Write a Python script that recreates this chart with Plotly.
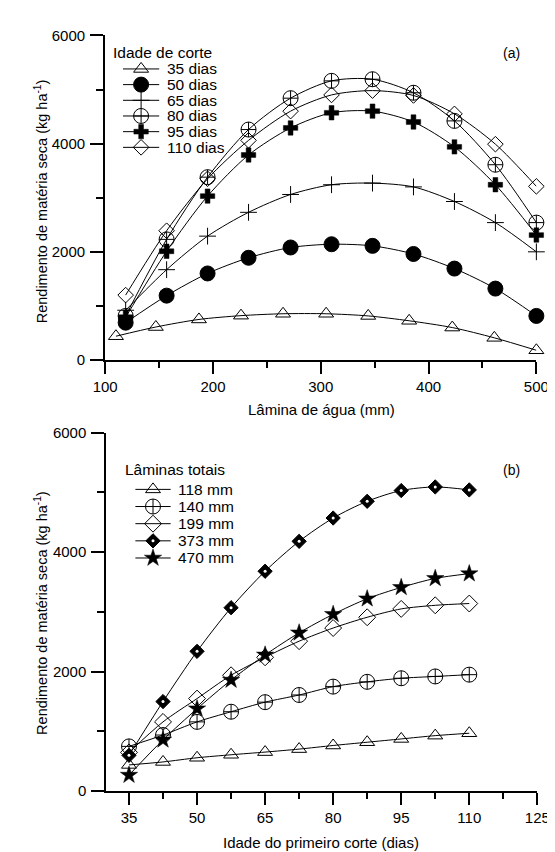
import plotly.graph_objects as go

# ---------------- data ----------------
lamina_35 = [110, 147, 187, 226, 265, 305, 344, 382, 422, 461, 500]
lamina = [119, 157, 195, 233, 272, 310, 348, 386, 424, 462, 500]
a_35 = [440, 610, 750, 820, 855, 855, 815, 725, 600, 410, 180]
a_50 = [690, 1190, 1600, 1890, 2080, 2140, 2110, 1960, 1690, 1320, 815]
a_65 = [920, 1670, 2290, 2730, 3060, 3240, 3270, 3200, 2930, 2540, 2000]
a_80 = [815, 2230, 3380, 4260, 4840, 5160, 5190, 4940, 4420, 3610, 2540]
a_95 = [790, 2010, 3030, 3790, 4290, 4570, 4600, 4400, 3940, 3240, 2310]
a_110 = [1200, 2390, 3350, 4060, 4600, 4900, 4980, 4890, 4550, 3990, 3210]
names_a = ["35 dias", "50 dias", "65 dias", "80 dias", "95 dias", "110 dias"]

idade = [35, 42.5, 50, 57.5, 65, 72.5, 80, 87.5, 95, 102.5, 110]
b_118 = [440, 490, 560, 610, 655, 705, 765, 820, 875, 930, 970]
b_140 = [750, 940, 1160, 1330, 1490, 1610, 1750, 1830, 1890, 1920, 1950]
b_199 = [650, 1160, 1550, 1940, 2240, 2510, 2730, 2910, 3050, 3110, 3140]
b_373 = [600, 1500, 2340, 3070, 3680, 4180, 4570, 4850, 5030, 5090, 5040]
b_470 = [270, 860, 1380, 1860, 2280, 2650, 2960, 3220, 3410, 3560, 3640]
names_b = ["118 mm", "140 mm", "199 mm", "373 mm", "470 mm"]

xticks_a = [100, 200, 300, 400, 500]
xminor_a = [150, 250, 350, 450]
xticks_b = [35, 50, 65, 80, 95, 110, 125]
xminor_b = [42.5, 57.5, 72.5, 87.5, 102.5, 117.5]
yticks = [0, 2000, 4000, 6000]
yminor = [1000, 3000, 5000]

# ---------------- styles ----------------
W, H = 555, 852
FONT = "Liberation Sans, Arial, sans-serif"
BLACK = "black"

sty_a = [
    dict(symbol="triangle-up-open", size=13, color=BLACK, line=dict(width=1, color=BLACK)),
    dict(symbol="circle", size=15, color=BLACK, line=dict(width=1, color=BLACK)),
    dict(symbol="cross-thin-open", size=12, color=BLACK, line=dict(width=1, color=BLACK)),
    dict(symbol="circle-cross-open", size=15, color=BLACK, line=dict(width=1, color=BLACK)),
    dict(symbol="cross", size=12, color=BLACK, line=dict(width=0.5, color=BLACK)),
    dict(symbol="diamond-open", size=12, color=BLACK, line=dict(width=1, color=BLACK)),
]
sty_b = [
    dict(symbol="triangle-up-open", size=13, color=BLACK, line=dict(width=1, color=BLACK)),
    dict(symbol="circle-cross-open", size=15, color=BLACK, line=dict(width=1, color=BLACK)),
    dict(symbol="diamond-open", size=13, color=BLACK, line=dict(width=1, color=BLACK)),
    dict(symbol="diamond", size=11, color=BLACK, line=dict(width=1, color=BLACK)),
    dict(symbol="star", size=13, color=BLACK, line=dict(width=0.5, color=BLACK)),
]

fig = go.Figure()

series_a = [(lamina_35, a_35), (lamina, a_50), (lamina, a_65), (lamina, a_80), (lamina, a_95), (lamina, a_110)]
for (xs, ys), nm, st in zip(series_a, names_a, sty_a):
    fig.add_trace(go.Scatter(x=xs, y=ys, name=nm, mode="lines+markers",
                             line=dict(color=BLACK, width=1, shape="spline", smoothing=0.8),
                             marker=st, cliponaxis=False, showlegend=False,
                             xaxis="x", yaxis="y"))

series_b = [b_118, b_140, b_199, b_373, b_470]
for ys, nm, st in zip(series_b, names_b, sty_b):
    fig.add_trace(go.Scatter(x=idade, y=ys, name=nm, mode="lines+markers",
                             line=dict(color=BLACK, width=1, shape="spline", smoothing=0.8),
                             marker=st, cliponaxis=False, showlegend=False,
                             xaxis="x2", yaxis="y2"))
# white centre dot of the 373 mm markers
fig.add_trace(go.Scatter(x=idade, y=b_373, mode="markers",
                         marker=dict(symbol="circle", size=3, color="white"),
                         cliponaxis=False, showlegend=False, hoverinfo="skip",
                         xaxis="x2", yaxis="y2"))

# ---------------- manual legends (pixel overlay axes) ----------------
def px_leg(x0, x1, y, st, extra_dot=False):
    fig.add_trace(go.Scatter(x=[x0, x1], y=[y, y], mode="lines",
                             line=dict(color=BLACK, width=1), showlegend=False,
                             hoverinfo="skip", xaxis="x3", yaxis="y3", cliponaxis=False))
    fig.add_trace(go.Scatter(x=[(x0 + x1) / 2], y=[y], mode="markers", marker=st,
                             showlegend=False, hoverinfo="skip", xaxis="x3", yaxis="y3",
                             cliponaxis=False))
    if extra_dot:
        fig.add_trace(go.Scatter(x=[(x0 + x1) / 2], y=[y], mode="markers",
                                 marker=dict(symbol="circle", size=3, color="white"),
                                 showlegend=False, hoverinfo="skip", xaxis="x3", yaxis="y3",
                                 cliponaxis=False))

annotations = []

def text_px(x, y, txt, size=15, xanchor="left", angle=0):
    annotations.append(dict(x=x / W, y=1 - y / H, xref="paper", yref="paper", text=txt,
                            showarrow=False, xanchor=xanchor, yanchor="middle",
                            textangle=angle, borderpad=0,
                            font=dict(family=FONT, size=size, color=BLACK)))

# legend (a)
text_px(95, 36, "Idade de corte", 15.5)
for i, (nm, st) in enumerate(zip(names_a, sty_a)):
    yy = 53 + i * 16
    px_leg(107, 145, yy, st)
    text_px(152, yy, nm, 15.5)

# legend (b)
text_px(108, 462, "Lâminas totais", 15.5)
for i, (nm, st) in enumerate(zip(names_b, sty_b)):
    yy = 482 + i * 17.5
    px_leg(120, 157, yy, st, extra_dot=(i == 3))
    text_px(164, yy, nm, 15.5)

text_px(515, 37, "(a)", 14, xanchor="center")
text_px(515, 462, "(b)", 14, xanchor="center")

# axis titles
text_px(315, 401, "Lâmina de água (mm)", 15, xanchor="center")
text_px(315, 842, "Idade do primeiro corte (dias)", 15, xanchor="center")
text_px(21, 188, "Rendimento de matéria seca (kg ha<sup>-1</sup>)", 14.5, xanchor="center", angle=-90)
text_px(21, 608, "Rendimento de matéria seca (kg ha<sup>-1</sup>)", 14.5, xanchor="center", angle=-90)

# ---------------- axes ----------------
def xa(rng, dom, tv, mv, anchor):
    return dict(range=rng, domain=dom, anchor=anchor, showline=True, linewidth=2, linecolor=BLACK,
                ticks="outside", ticklen=12, tickwidth=2, tickcolor=BLACK,
                tickmode="array", tickvals=tv, showgrid=False, zeroline=False,
                tickfont=dict(family=FONT, size=15, color=BLACK),
                minor=dict(tickmode="array", tickvals=mv, ticks="outside", ticklen=6,
                           tickwidth=2, tickcolor=BLACK, showgrid=False))

def ya(rng, dom, anchor):
    return dict(range=rng, domain=dom, anchor=anchor, showline=True, linewidth=2, linecolor=BLACK,
                ticks="outside", ticklen=13, tickwidth=2, tickcolor=BLACK,
                tickmode="array", tickvals=yticks, showgrid=False, zeroline=False,
                ticklabelstandoff=2,
                tickfont=dict(family=FONT, size=15, color=BLACK),
                minor=dict(tickmode="array", tickvals=yminor, ticks="outside", ticklen=7,
                           tickwidth=2, tickcolor=BLACK, showgrid=False))

fig.update_layout(
    width=W, height=H, autosize=False,
    margin=dict(l=0, r=0, t=0, b=0),
    paper_bgcolor="white", plot_bgcolor="rgba(0,0,0,0)",
    showlegend=False,
    xaxis=xa([100, 500], [88.3 / W, 540.7 / W], xticks_a, xminor_a, "y"),
    yaxis=ya([0, 6000], [1 - 350 / H, 1 - 18.8 / H], "x"),
    xaxis2=xa([30, 125], [89.5 / W, 541.7 / W], xticks_b, xminor_b, "y2"),
    yaxis2=ya([0, 6000], [1 - 790 / H, 1 - 424 / H], "x2"),
    xaxis3=dict(range=[0, W], domain=[0, 1], visible=False, anchor="y3", fixedrange=True),
    yaxis3=dict(range=[H, 0], domain=[0, 1], visible=False, anchor="x3", fixedrange=True),
    annotations=annotations,
)

fig.write_html("out.html")
